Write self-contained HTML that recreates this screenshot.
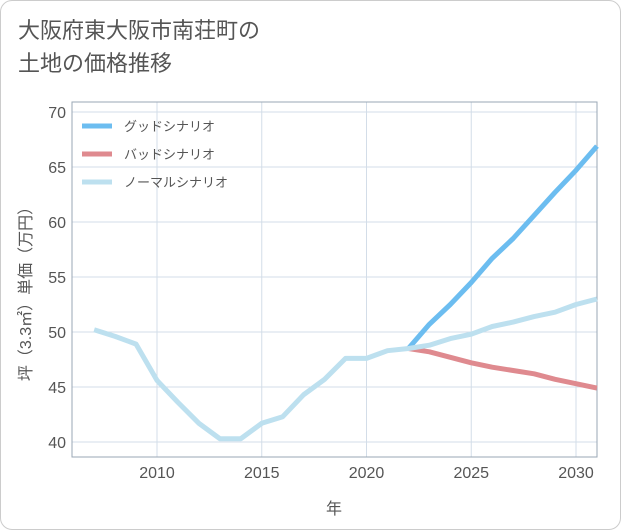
<!DOCTYPE html>
<html><head><meta charset="utf-8"><style>
body{margin:0;background:#fff;font-family:"Liberation Sans","Noto Sans CJK JP",sans-serif;}
#card{position:absolute;left:0;top:0;width:619px;height:528px;border:1px solid #ccc;border-radius:12px;background:#fff;}
#title{position:absolute;left:18px;top:14px;font-size:22px;line-height:33px;color:#555;}
</style></head><body>
<div id="card"></div>
<div id="title">大阪府東大阪市南荘町の<br>土地の価格推移</div>
<svg id="chart" width="621" height="530" style="position:absolute;left:0;top:0"></svg>
<script>
const years=[2007,2008,2009,2010,2011,2012,2013,2014,2015,2016,2017,2018,2019,2020,2021,2022,2023,2024,2025,2026,2027,2028,2029,2030,2031];
const normalVals=[50.2,49.6,48.9,45.6,43.6,41.7,40.3,40.3,41.7,42.3,44.3,45.7,47.6,47.6,48.3,48.5,48.8,49.4,49.8,50.5,50.9,51.4,51.8,52.5,53.0];
const forecastYears=[2022,2023,2024,2025,2026,2027,2028,2029,2030,2031];
const goodVals=[48.5,50.7,52.5,54.5,56.7,58.5,60.6,62.7,64.7,66.9];
const badVals=[48.5,48.2,47.7,47.2,46.8,46.5,46.2,45.7,45.3,44.9];
const xTicks=[2010,2015,2020,2025,2030];
const yTicks=[40,45,50,55,60,65,70];
const seriesNames=["グッドシナリオ","バッドシナリオ","ノーマルシナリオ"];

const L=72,R=597,T=102,B=457;
const x=v=>157+(v-2010)*(576-157)/20;
const y=v=>442-(v-40)*(442-112)/30;
const svg=document.getElementById('chart');
const NS='http://www.w3.org/2000/svg';
function mk(tag,attrs){const e=document.createElementNS(NS,tag);for(const k in attrs)e.setAttribute(k,attrs[k]);svg.appendChild(e);return e;}

for(const t of xTicks){
  const g=mk('line',{x1:x(t),x2:x(t),y1:T,y2:B,stroke:'#d3dde8','stroke-width':1});
  
  
  const lb=mk('text',{x:x(t),y:478,'text-anchor':'middle','font-size':16,fill:'#555'});
  lb.textContent=t;
  
  
}
for(const t of yTicks){
  const g=mk('line',{x1:L,x2:R,y1:y(t),y2:y(t),stroke:'#d3dde8','stroke-width':1});
  
  
  const lb=mk('text',{x:66,y:y(t)+6,'text-anchor':'end','font-size':16,fill:'#555'});
  lb.textContent=t;
  
  
}
const fr=mk('rect',{x:L,y:T,width:R-L,height:B-T,fill:'none',stroke:'#9aa7b5','stroke-width':1});



function line(xs,vs,color,name){
  const p=mk('polyline',{points:xs.map((v,i)=>x(v)+','+y(vs[i])).join(' '),fill:'none',stroke:color,'stroke-width':5,'stroke-linejoin':'round'});
  
  
}
line(forecastYears,badVals,'#df8a8f','bad-scenario-line');
line(forecastYears,goodVals,'#6cbdf0','good-scenario-line');
line(years,normalVals,'#bde0ef','normal-scenario-line');

const colors=['#6cbdf0','#df8a8f','#bde0ef'];
seriesNames.forEach((n,i)=>{
  const yy=126+i*28;
  const s=mk('line',{x1:82,x2:112,y1:yy,y2:yy,stroke:colors[i],'stroke-width':5});
  
  
  const t=mk('text',{x:124,y:yy+5,'font-size':13,fill:'#555'});
  t.textContent=n;
  
  
});
const xt=mk('text',{x:334,y:514,'text-anchor':'middle','font-size':16,fill:'#555'});
xt.textContent='年';


const yt=mk('text',{x:0,y:0,'text-anchor':'middle','font-size':16,fill:'#555',transform:'translate(31,290) rotate(-90)'});
yt.textContent='坪（3.3㎡）単価（万円）';


</script>
</body></html>
